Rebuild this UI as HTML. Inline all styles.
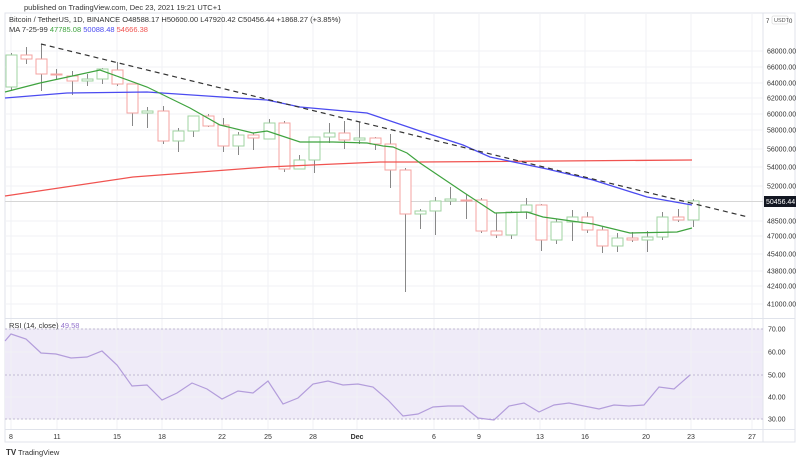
<!DOCTYPE html>
<html><head><meta charset="utf-8"><style>
body{margin:0;background:#fff;width:800px;height:460px;overflow:hidden;font-family:"Liberation Sans",sans-serif}
svg text{font-family:"Liberation Sans",sans-serif}
</style></head><body>
<svg id="s" width="800" height="460" xmlns="http://www.w3.org/2000/svg">
<text x="24" y="10" font-size="7.5" fill="#333">published on TradingView.com, Dec 23, 2021 19:21 UTC+1</text>
<rect x="5" y="13" width="790" height="429" fill="none" stroke="#e0e3eb" stroke-width="1"/>
<rect x="5" y="329" width="758" height="90" fill="#efebf8"/>
<g id="grid" stroke="#f0f2f5" stroke-width="1"></g>
<line x1="763" y1="13" x2="763" y2="442" stroke="#e0e3eb"/>
<line x1="5" y1="318.5" x2="795" y2="318.5" stroke="#e0e3eb"/>
<line x1="5" y1="429.5" x2="795" y2="429.5" stroke="#e0e3eb"/>
<g stroke="#b0a8c8" stroke-dasharray="2,2" stroke-width="0.8">
<line x1="5" y1="329" x2="763" y2="329"/><line x1="5" y1="375" x2="763" y2="375"/><line x1="5" y1="419" x2="763" y2="419"/></g>
<line x1="5" y1="201.5" x2="763" y2="201.5" stroke="#d6d6d6"/>
<g id="c"></g>
<polyline fill="none" stroke="#f05350" stroke-width="1.3" points="5,196 133,177 267,167 380,162 420,162 692,160"/>
<polyline fill="none" stroke="#4b4bf0" stroke-width="1.3" points="5,98 67,93 147,92 207,96 267,100 300,107 367,113 420,131 463,145 490,157 547,169 593,180 647,197 692,205"/>
<polyline fill="none" stroke="#3fa33f" stroke-width="1.2" points="5,92 40,83 100,70 147,87 190,108 220,125 253,133 267,131 300,142 333,142 367,143 383,146 393,147 407,153 420,163 463,192 495,213 527,212 543,217 593,224 630,233 677,232 692,228"/>
<line x1="41" y1="44" x2="748" y2="217" stroke="#333" stroke-width="1.2" stroke-dasharray="5,4"/>
<polyline fill="none" stroke="#b39ddb" stroke-width="1.2" points="5,341 11,334 26,339 41,353 56,354 71,358 87,357 102,351 117,365 132,386 147,385 162,400 177,393 192,383 207,389 222,399 238,391 253,393 268,381 283,404 298,398 313,384 328,381 343,385 358,384 373,387 388,400 403,416 418,414 433,407 448,406 463,406 478,418 494,420 509,406 524,403 539,412 554,405 569,403 584,406 599,409 614,405 629,406 644,405 659,387 674,389 690,375"/>
<g font-size="7.5">
<text x="9" y="22" fill="#333">Bitcoin / TetherUS, 1D, BINANCE  O48588.17  H50600.00  L47920.42  C50456.44  +1868.27 (+3.85%)</text>
<text x="9" y="32" fill="#333">MA 7-25-99 <tspan fill="#3fa33f">47785.08</tspan> <tspan fill="#4b4bf0">50088.48</tspan> <tspan fill="#f05350">54666.38</tspan></text>
<text x="9" y="328" fill="#333">RSI (14, close) <tspan fill="#9575cd">49.58</tspan></text>
</g>
<g id="py" font-size="7" fill="#333"></g>
<rect x="764" y="196" width="32" height="11" fill="#131722"/>
<text x="766" y="204" font-size="7" fill="#fff">50456.44</text>
<rect x="772" y="16" width="16" height="8" fill="#fff" stroke="#ccc" stroke-width="0.5" rx="1"/>
<text x="774" y="22" font-size="5.5" fill="#555">USDT</text>
<text x="766" y="23" font-size="6" fill="#333">7</text><text x="789" y="23" font-size="6" fill="#333">0</text>
<g id="dx" font-size="7" fill="#333"></g>
<text x="6" y="455" font-size="8" fill="#333" font-weight="bold">TV</text>
<text x="18" y="455" font-size="7.5" fill="#333">TradingView</text>
</svg>
<script>
var NS="http://www.w3.org/2000/svg";
function el(p,t,a,tx){var e=document.createElementNS(NS,t);for(var k in a)e.setAttribute(k,a[k]);if(tx)e.textContent=tx;document.getElementById(p).appendChild(e);}
var dx=[[11,"8"],[57,"11"],[117,"15"],[162,"18"],[222,"22"],[268,"25"],[313,"28"],[357,"Dec"],[434,"6"],[479,"9"],[540,"13"],[585,"16"],[646,"20"],[691,"23"],[752,"27"]];
dx.forEach(function(d){el("grid","line",{x1:d[0],y1:13,x2:d[0],y2:429});el("dx","text",{x:d[0],y:439,"text-anchor":"middle","font-weight":d[1]=="Dec"?"bold":"normal"},d[1]);});
var py=[[51,"68000.00"],[67,"66000.00"],[83,"64000.00"],[98,"62000.00"],[114,"60000.00"],[130,"58000.00"],[149,"56000.00"],[167,"54000.00"],[186,"52000.00"],[221,"48500.00"],[236,"47000.00"],[254,"45400.00"],[271,"43800.00"],[286,"42400.00"],[304,"41000.00"],[329,"70.00"],[352,"60.00"],[375,"50.00"],[397,"40.00"],[419,"30.00"]];
py.forEach(function(p){el("grid","line",{x1:5,y1:p[0],x2:763,y2:p[0]});el("py","text",{x:p[1].length>6?767:768,y:p[0]+2.5},p[1]);});
var c=[[53,91,55,87,1],[47,64,55,59,0],[44,91,59,74,0],[69,79,74,75,0],[71,95,76,81,0],[74,86,79,81,1],[68,84,69,79,1],[62,86,70,84,0],[84,126,84,113,0],[107,128,111,113,1],[106,144,111,141,0],[128,152,131,141,1],[116,137,116,131,1],[114,127,116,126,0],[118,152,125,146,0],[132,155,135,146,1],[133,150,135,138,0],[119,139,123,139,1],[121,172,123,169,0],[155,169,160,169,1],[137,173,137,160,1],[123,143,133,137,1],[121,149,133,140,0],[122,144,138,140,1],[137,150,138,144,0],[134,188,144,170,0],[168,292,170,214,0],[209,229,211,214,1],[197,235,201,211,1],[187,205,199,201,1],[194,219,200,201,0],[198,233,200,231,0],[213,238,231,235,0],[211,239,212,235,1],[198,219,205,212,1],[204,251,205,240,0],[219,244,222,240,1],[210,241,217,222,1],[212,233,217,230,0],[227,253,230,246,0],[233,252,238,246,1],[232,242,238,240,0],[231,252,237,240,1],[212,240,217,237,1],[209,222,217,220,0],[199,227,201,220,1]];
c.forEach(function(d,i){var x=Math.round(11+i*15.15)+0.5;var col=d[4]?"#9fd3a0":"#f4a3a1";
el("c","line",{x1:x,y1:d[0],x2:x,y2:d[2],stroke:"#888","stroke-width":1});
el("c","line",{x1:x,y1:d[3],x2:x,y2:d[1],stroke:"#888","stroke-width":1});
el("c","rect",{x:x-5.5,y:d[2],width:11,height:Math.max(1,d[3]-d[2]),fill:"#fff",stroke:col,"stroke-width":1});});
</script>
</body></html>
